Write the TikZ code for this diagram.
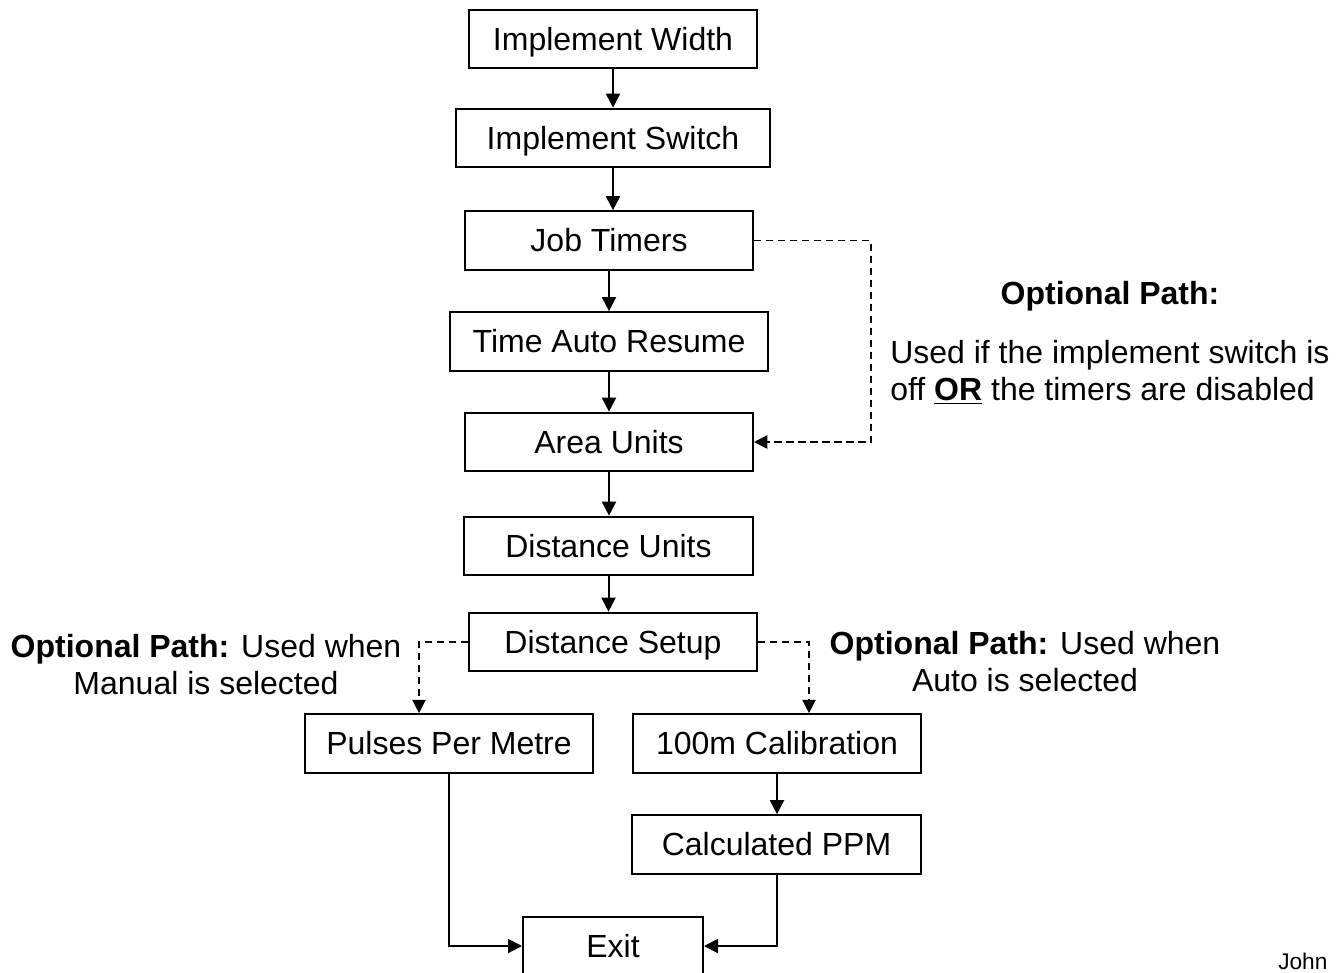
\documentclass[tikz,border=0pt]{standalone}
\usepackage{fontspec}
\setmainfont{Liberation Sans}
\usetikzlibrary{arrows.meta}

\begin{document}
\begin{tikzpicture}[x=0.75pt, y=-0.75pt, box/.style={draw, line width=1.5pt, minimum height=44pt, inner sep=0pt, text height=18pt, text depth=1.5pt}, arr/.style={line width=1.5pt, -{Triangle[length=10.5pt, width=10.5pt]}}, dsh/.style={line width=1pt, dash pattern=on 5.5pt off 3.5pt, -{Triangle[length=10pt, width=10pt]}}, note/.style={inner sep=0pt, align=center}, font=\fontsize{24}{27.8}\selectfont]
\useasboundingbox (0,0) rectangle (1338,972);
\clip (0,0) rectangle (1338,972);
\foreach \n/\x/\y/\w/\t in {iw/613/39/216/Implement Width, isw/613/138/235.5/Implement Switch, jt/609/240.5/216/Job Timers, tar/609/341.5/238.5/Time Auto Resume, au/609/442/216/Area Units, du/608.5/546/216.5/Distance Units, ds/613/642/216/Distance Setup, ppm/449/743.5/216/Pulses Per Metre, cal/777/743.5/216/100m Calibration, cppm/776.5/844.5/216.5/Calculated PPM, exit/613/946/135/Exit}{\node[box, minimum width=\w pt] (\n) at (\x,\y){\t};}
\foreach \i/\j in {iw/isw, isw/jt, jt/tar, tar/au, au/du, du/ds, cal/cppm}{\draw[arr] (\i.south) -- (\i.south |- \j.north);}
\draw[arr] (ppm.south) |- (exit.west);
\draw[arr] (cppm.south) |- (exit.east);
\coordinate (rt) at (871,0);
\coordinate (ml) at (419,0);
\coordinate (mr) at (809,0);
\draw[dsh] (jt.east) -- (jt.east -| rt) -- (au.east -| rt) -- (au.east);
\draw[dsh] (ds.west) -- (ds.west -| ml) -- (ml |- ppm.north);
\draw[dsh] (ds.east) -- (ds.east -| mr) -- (mr |- cal.north);
\node[note] (h1) at (1110,296){\textbf{Optional Path:}};
\node[note, align=left, anchor=west] (n1) at (890,372){Used if the implement switch is\\off \textbf{\underline{OR}} the timers are disabled};
\node[note] (n2) at (206,665){\textbf{Optional Path:} Used when\\Manual is selected};
\node[note] (n3) at (1025,662){\textbf{Optional Path:} Used when\\Auto is selected};
\node[note, anchor=base west, font=\fontsize{17}{20}\selectfont] (jw) at (1278,969){John};
\end{tikzpicture}
\end{document}
